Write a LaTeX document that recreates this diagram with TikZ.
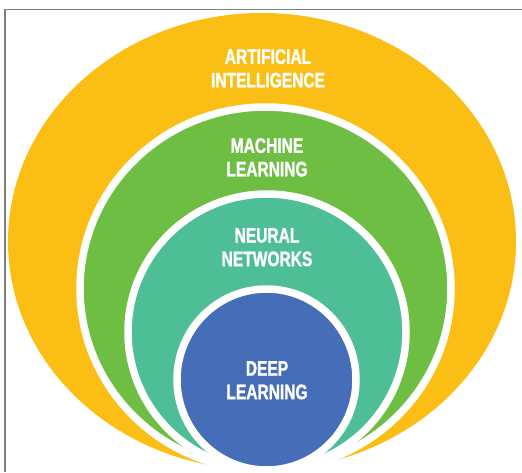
\documentclass[tikz,border=0pt]{standalone}
\usepackage{fontspec}
\setmainfont{Liberation Sans}[FakeStretch=0.74,BoldFeatures={FakeBold=1.2}]
\definecolor{aiyellow}{HTML}{FBBE15}
\definecolor{mlgreen}{HTML}{6FBE44}
\definecolor{nnteal}{HTML}{4EBE97}
\definecolor{dlblue}{HTML}{466EB8}
\definecolor{framegray}{HTML}{7F7F7F}
\begin{document}
\begin{tikzpicture}[x=1pt,y=-1pt,
  ring/.style={draw=white,line width=7.5pt},
  lbl/.style={text=white,font=\bfseries\fontsize{21}{23.5}\selectfont,align=center,anchor=north,inner sep=0pt}]
\useasboundingbox (0,0) rectangle (522,472);
\fill[white] (0,0) rectangle (522,472);
% frame (top and left only visible)
\draw[framegray,line width=1.5pt] (5,472) -- (5,9.5) -- (522,9.5);
% nested ellipses
\fill[aiyellow] (262,241.5) ellipse [x radius=254, y radius=228.5];
\filldraw[fill=mlgreen,ring] (265.5,288.5) ellipse [x radius=185.5, y radius=181.5];
\filldraw[fill=nnteal,ring] (267,332) ellipse [x radius=139, y radius=138];
\filldraw[fill=dlblue,ring] (266.5,379.5) ellipse [x radius=89.5, y radius=90.5];
% labels
\node[lbl] (ai) at (268,49) {ARTIFICIAL\\INTELLIGENCE};
\node[lbl] (ml) at (267,138) {MACHINE\\LEARNING};
\node[lbl] (nn) at (267,228) {NEURAL\\NETWORKS};
\node[lbl] (dl) at (267,361) {DEEP\\LEARNING};
\end{tikzpicture}
\end{document}
